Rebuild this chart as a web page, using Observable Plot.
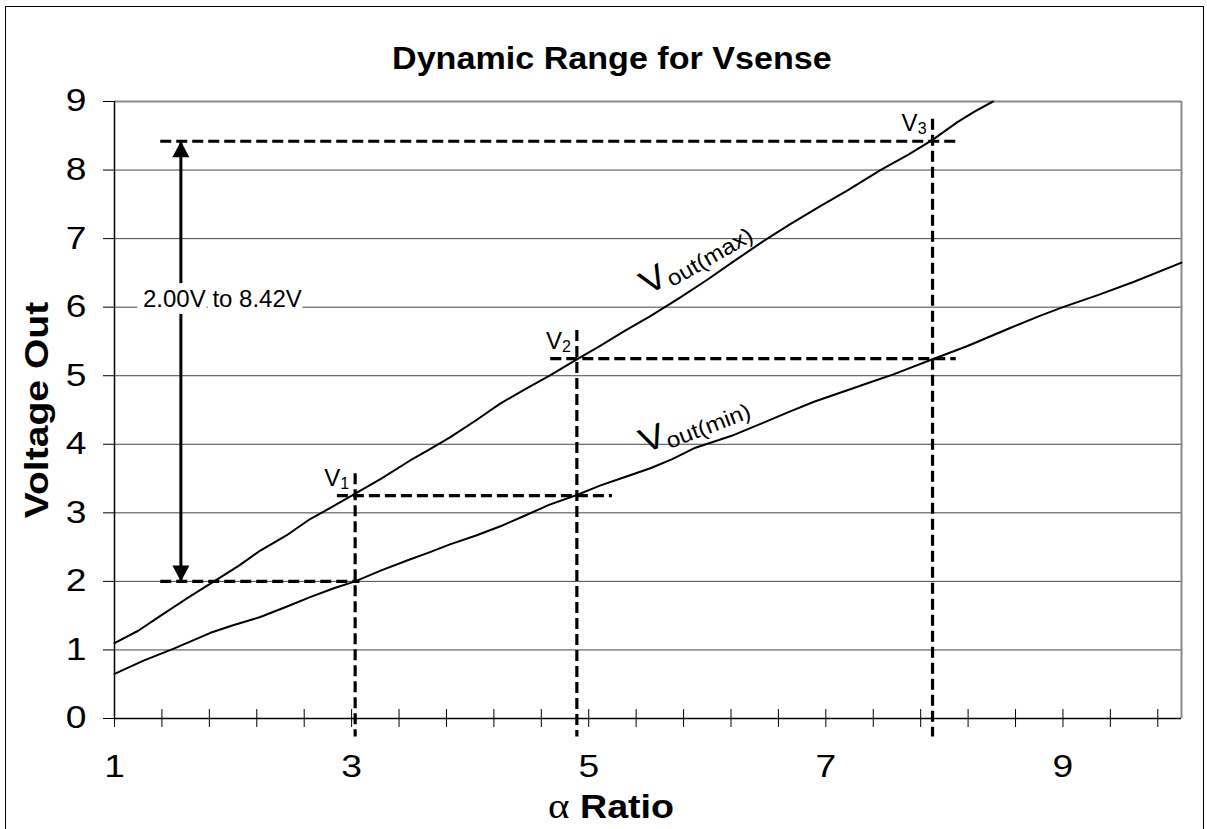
<!DOCTYPE html>
<html>
<head>
<meta charset="utf-8">
<script src="https://cdn.jsdelivr.net/npm/d3@7"></script>
<script src="https://cdn.jsdelivr.net/npm/@observablehq/plot@0.6"></script>
<style>
  body { margin: 0; background: #fff; }
  #page { position: relative; width: 1207px; height: 829px; overflow: hidden; }
  #title { height: 80px; box-sizing: border-box; padding-top: 43px; padding-left: 17px; text-align: center;
           font: bold 31px "Liberation Sans", Arial, sans-serif; line-height: 31px; color: #000; }
  #title span { display: inline-block; transform: scaleX(1.1); }
  #border { position: absolute; left: 5px; top: 6px; width: 1199px; height: 830px; box-sizing: border-box;
            border: 1.5px solid #000; pointer-events: none; }
  svg { overflow: visible; }
</style>
</head>
<body>
<div id="page">
  <div id="title"><span>Dynamic Range for Vsense</span></div>
  <div id="chart"></div>
  <div id="border"></div>
</div>
<script>
// ---- series: Vout(max) ----
const alphaMax = [1.0,1.2,1.39,1.6,1.84,2.05,2.23,2.45,2.65,2.85,3.03,3.25,3.49,3.65,3.83,4.05,4.25,4.45,4.67,4.9,5.1,5.3,5.52,5.77,6.0,6.25,6.48,6.7,6.95,7.18,7.46,7.7,7.9,8.11,8.25,8.41];
const voutMax  = [1.10,1.28,1.50,1.74,2.00,2.23,2.45,2.67,2.91,3.10,3.28,3.50,3.76,3.92,4.10,4.35,4.59,4.79,5.00,5.24,5.44,5.65,5.87,6.14,6.40,6.70,6.97,7.21,7.47,7.70,8.00,8.23,8.44,8.70,8.85,9.00];
// ---- series: Vout(min) ----
const alphaMin = [1.0,1.24,1.5,1.81,2.0,2.23,2.45,2.65,2.85,3.03,3.25,3.49,3.65,3.83,4.05,4.25,4.45,4.67,4.9,5.1,5.3,5.52,5.7,5.9,6.2,6.48,6.7,6.9,7.2,7.4,7.57,7.9,8.19,8.56,8.8,9.0,9.3,9.6,10.0];
const voutMin  = [0.65,0.84,1.02,1.25,1.36,1.48,1.63,1.77,1.90,2.00,2.16,2.32,2.42,2.54,2.67,2.80,2.95,3.12,3.26,3.40,3.52,3.65,3.78,3.95,4.12,4.32,4.48,4.62,4.80,4.92,5.02,5.24,5.43,5.70,5.87,6.00,6.18,6.37,6.65];

// ---- ticks ----
const yTicks = [0,1,2,3,4,5,6,7,8,9];
const gridLevels = [1,2,3,4,5,6,7,8];
const xLabelTicks = [1,3,5,7,9];
const xMinorTicks = [1,1.4,1.8,2.2,2.6,3,3.4,3.8,4.2,4.6,5,5.4,5.8,6.2,6.6,7,7.4,7.8,8.2,8.6,9,9.4,9.8];

// ---- annotation values ----
const guideLevels = [2.00, 3.25, 5.25, 8.42];
const guideFrom   = [1.39, 2.88, 4.68, 1.39];
const guideTo     = [3.07, 5.20, 8.10, 8.10];
const markAlpha   = [3.03, 4.90, 7.90];
const markLevel   = [3.25, 5.25, 8.42];
const markTop     = [3.57, 5.66, 8.74];
const markBottom  = [-0.27, -0.27, -0.27];
const markNames   = ["V1", "V2", "V3"];
const rangeAlpha  = [1.56];
const rangeLow    = [2.00];
const rangeHigh   = [8.42];
const rangeLabel  = ["2.00V to 8.42V"];
const rangeLabelAlpha = [1.91];
const rangeLabelLevel = [6.0];
const curveNames  = ["Vout(max)", "Vout(min)"];
const curveLabelAlpha = [5.50, 5.47];
const curveLabelLevel = [6.17, 3.87];
const curveLabelAngle = [-30, -21];

// ---- tables built from the arrays ----
const maxRows = alphaMax.map((a, i) => ({a, v: voutMax[i]}));
const minRows = alphaMin.map((a, i) => ({a, v: voutMin[i]}));
const guideRows = guideLevels.map((v, i) => ({v, x1: guideFrom[i], x2: guideTo[i]}));
const markRows = markAlpha.map((a, i) => ({a, level: markLevel[i], top: markTop[i], bottom: markBottom[i], name: markNames[i]}));
const rangeRows = rangeAlpha.map((a, i) => ({a, low: rangeLow[i], high: rangeHigh[i]}));
const rangeLabelRows = rangeLabel.map((t, i) => ({t, a: rangeLabelAlpha[i], v: rangeLabelLevel[i]}));
const curveLabelRows = curveNames.map((t, i) => ({t, a: curveLabelAlpha[i], v: curveLabelLevel[i], r: curveLabelAngle[i]}));

const headUp = {draw(ctx) { ctx.moveTo(0, 0); ctx.lineTo(8.5, 16); ctx.lineTo(-8.5, 16); ctx.closePath(); }};
const headDown = {draw(ctx) { ctx.moveTo(0, 0); ctx.lineTo(8.5, -16); ctx.lineTo(-8.5, -16); ctx.closePath(); }};

const dash = "11,5";
const chart = Plot.plot({
  width: 1207,
  height: 749,
  marginLeft: 114,
  marginRight: 26,
  marginTop: 21,
  marginBottom: 111,
  x: {domain: [1, 10], axis: null},
  y: {domain: [0, 9], axis: null},
  style: {fontFamily: '"Liberation Sans", Arial, sans-serif', background: "transparent", color: "#000"},
  marks: [
    Plot.ruleY(gridLevels, {stroke: "#444", strokeWidth: 1}),
    Plot.ruleY([9], {stroke: "#8a8a8a", strokeWidth: 2}),
    Plot.ruleX([10], {y1: 0, y2: 9, stroke: "#8a8a8a", strokeWidth: 2}),
    Plot.axisY({ticks: yTicks, tickSize: 11, tickPadding: 17, fontSize: 31, label: null, stroke: "#000"}),
    Plot.axisX({ticks: xMinorTicks, tickSize: 18, dy: -9, tickFormat: () => "", label: null, stroke: "#000"}),
    Plot.axisX({ticks: xLabelTicks, tickSize: 0, tickPadding: 36, fontSize: 31, label: null}),
    Plot.ruleX([1], {y1: 0, y2: 9, stroke: "#000", strokeWidth: 1.5}),
    Plot.ruleY([0], {x1: 1, x2: 10, stroke: "#000", strokeWidth: 1.5}),
    Plot.line(maxRows, {x: "a", y: "v", stroke: "#000", strokeWidth: 2}),
    Plot.line(minRows, {x: "a", y: "v", stroke: "#000", strokeWidth: 2}),
    Plot.ruleY(guideRows, {y: "v", x1: "x1", x2: "x2", stroke: "#000", strokeWidth: 3.2, strokeDasharray: dash}),
    Plot.ruleX(markRows, {x: "a", y1: "top", y2: "bottom", stroke: "#000", strokeWidth: 3.2, strokeDasharray: dash}),
    Plot.ruleX(rangeRows, {x: "a", y1: "low", y2: "high", stroke: "#000", strokeWidth: 3}),
    Plot.dot(rangeRows, {x: "a", y: "high", symbol: headUp, fill: "#000", stroke: "none"}),
    Plot.dot(rangeRows, {x: "a", y: "low", symbol: headDown, fill: "#000", stroke: "none"}),
    Plot.text(rangeLabelRows, {x: "a", y: "v", text: "t", fontSize: 24, lineAnchor: "bottom", fill: "#000",
      stroke: "#fff", strokeWidth: 14, paintOrder: "stroke"}),
    Plot.text(markRows, {x: "a", y: "level", text: "name", fontSize: 24, textAnchor: "end", lineAnchor: "bottom",
      dx: -6, dy: -10, fill: "#000"}),
    Plot.text(curveLabelRows, {x: "a", y: "v", text: "t", rotate: "r", fontSize: 34, textAnchor: "start",
      lineAnchor: "bottom", fill: "#000"}),
    Plot.text(["Voltage Out"], {frameAnchor: "left", dx: -77, rotate: -90, textAnchor: "middle", lineAnchor: "middle",
      fontSize: 34, fontWeight: "bold", fill: "#000"}),
    Plot.text(["\u03b1 Ratio"], {frameAnchor: "bottom", dx: -37, dy: 99, textAnchor: "middle", lineAnchor: "bottom",
      fontSize: 33, fontWeight: "bold", fill: "#000"})
  ]
});
document.getElementById("chart").appendChild(chart);

// rich text: subscripts, mixed fonts and the wide glyph rendering of the original
const NS = "http://www.w3.org/2000/svg";
function rebuild(el, parts) {
  el.textContent = "";
  for (const p of parts) {
    const ts = document.createElementNS(NS, "tspan");
    ts.textContent = p.t;
    for (const k in p.attr || {}) ts.setAttribute(k, p.attr[k]);
    el.appendChild(ts);
  }
}
function widen(el, s) {
  const x = parseFloat(el.getAttribute("x")) || 0;
  const t = el.getAttribute("transform") || "";
  el.setAttribute("transform", `${t} translate(${x},0) scale(${s},1) translate(${-x},0)`);
}
chart.querySelectorAll("text").forEach(el => {
  const s = el.textContent;
  if (/^V[123]$/.test(s)) {
    rebuild(el, [{t: "V"}, {t: s.slice(1), attr: {"font-size": 16, dy: 3}}]);
  } else if (s === "Vout(max)" || s === "Vout(min)") {
    rebuild(el, [{t: "V"}, {t: s.slice(1), attr: {"font-size": 22, dy: 5}}]);
    widen(el, 1.1);
  } else if (s === "\u03b1 Ratio") {
    rebuild(el, [{t: "\u03b1", attr: {"font-family": '"Liberation Serif", "DejaVu Serif", serif', "font-weight": "normal", "font-size": 36}},
                 {t: " Ratio"}]);
    widen(el, 1.14);
  } else if (s === "Voltage Out") {
    widen(el, 1.15);
  } else if (/^[0-9]$/.test(s)) {
    widen(el, 1.2);
  }
});
</script>
</body>
</html>
